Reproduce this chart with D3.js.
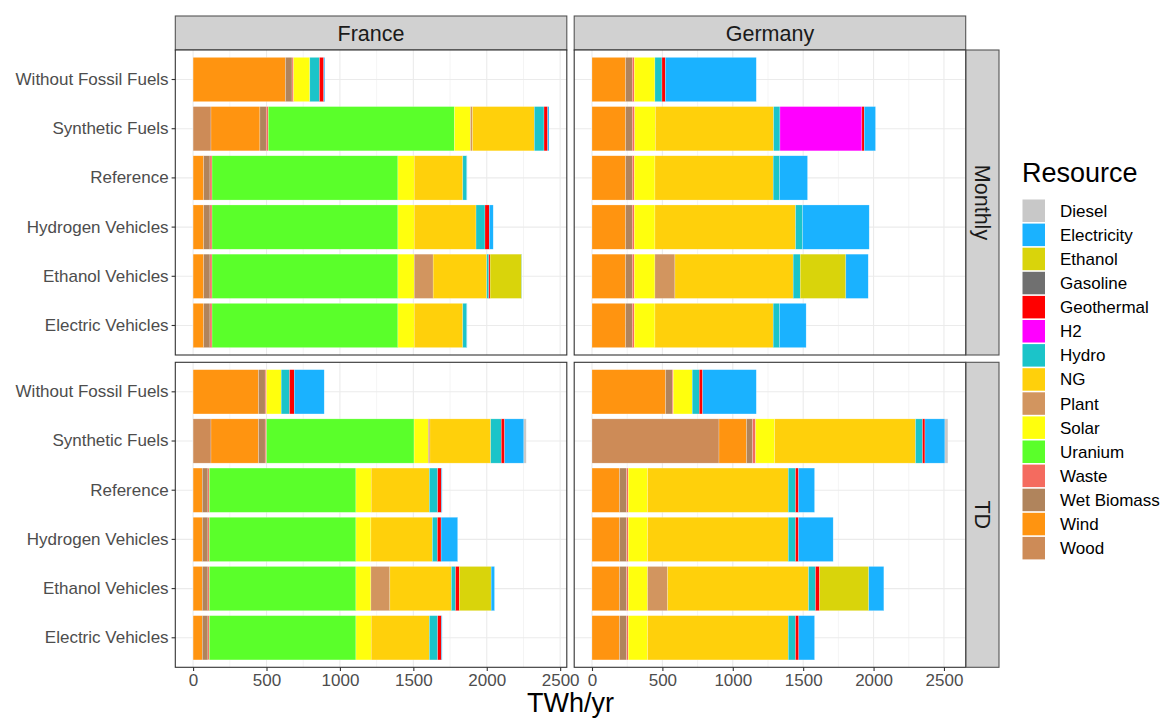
<!DOCTYPE html>
<html>
<head>
<meta charset="utf-8">
<script src="https://cdn.jsdelivr.net/npm/d3@7"></script>
<style>
  body { margin: 0; background: #fff; }
  text { font-family: "Liberation Sans", Arial, sans-serif; }
</style>
</head>
<body>
<svg id="chart" width="1162" height="718"></svg>
<script>
// --- Data ---
const scenarios = ['Without Fossil Fuels', 'Synthetic Fuels', 'Reference', 'Hydrogen Vehicles', 'Ethanol Vehicles', 'Electric Vehicles'];
const resources = ['Diesel', 'Electricity', 'Ethanol', 'Gasoline', 'Geothermal', 'H2', 'Hydro', 'NG', 'Plant', 'Solar', 'Uranium', 'Waste', 'Wet Biomass', 'Wind', 'Wood'];
const resourceColors = ['#C8C8C8', '#1AB2FF', '#D9D40B', '#707070', '#FF0000', '#FF00FF', '#1BC4C9', '#FFD00B', '#D2955F', '#FFFF0D', '#5AFF2A', '#F46B5F', '#B0845C', '#FF9410', '#CD8B57'];
const countries = ['France', 'Germany'];
const resolutions = ['Monthly', 'TD'];
const xTicks = [0, 500, 1000, 1500, 2000, 2500];

// rows = scenarios, columns = resources (TWh/yr)
const franceMonthly = [
    [0, 7, 0, 0, 29, 0, 66, 0, 0, 111, 0, 10, 45, 629, 0],
    [0, 9, 0, 0, 25, 0, 66, 421, 14, 109, 1268, 14, 43, 333, 122],
    [0, 2, 0, 0, 0, 0, 27, 331, 0, 111, 1266, 14, 43, 72, 0],
    [0, 27, 0, 0, 29, 0, 61, 421, 0, 111, 1266, 14, 43, 72, 0],
    [0, 2, 215, 0, 9, 0, 14, 365, 129, 111, 1266, 14, 43, 72, 0],
    [0, 2, 0, 0, 0, 0, 27, 331, 0, 111, 1266, 14, 43, 72, 0]
];
const germanyMonthly = [
    [0, 646, 0, 0, 24, 0, 50, 0, 0, 147, 0, 14, 47, 239, 0],
    [0, 80, 0, 0, 17, 582, 45, 840, 0, 147, 0, 17, 47, 239, 0],
    [0, 199, 0, 0, 0, 0, 45, 840, 0, 147, 0, 14, 47, 239, 0],
    [0, 473, 0, 0, 0, 0, 50, 999, 0, 147, 0, 14, 47, 239, 0],
    [0, 159, 324, 0, 0, 0, 50, 840, 142, 147, 0, 14, 47, 239, 0],
    [0, 189, 0, 0, 0, 0, 45, 840, 0, 147, 0, 14, 47, 239, 0]
];
const franceTD = [
    [0, 204, 0, 0, 32, 0, 57, 0, 0, 100, 0, 9, 45, 446, 0],
    [16, 131, 0, 0, 23, 0, 72, 414, 11, 97, 1005, 9, 45, 324, 122],
    [0, 5, 0, 0, 25, 0, 57, 396, 0, 104, 998, 10, 38, 63, 0],
    [0, 113, 0, 0, 25, 0, 34, 419, 0, 102, 998, 10, 38, 63, 0],
    [0, 23, 217, 0, 25, 0, 29, 419, 129, 102, 998, 10, 38, 63, 0],
    [0, 5, 0, 0, 25, 0, 57, 396, 0, 104, 998, 10, 38, 63, 0]
];
const germanyTD = [
    [0, 381, 0, 0, 24, 0, 50, 0, 0, 135, 0, 7, 47, 523, 0],
    [21, 142, 0, 0, 17, 0, 50, 1001, 0, 135, 0, 21, 43, 196, 902],
    [0, 114, 0, 0, 21, 0, 52, 999, 0, 137, 0, 12, 50, 196, 0],
    [0, 246, 0, 0, 21, 0, 52, 999, 0, 137, 0, 12, 50, 196, 0],
    [0, 107, 350, 0, 28, 0, 50, 1001, 142, 137, 0, 12, 50, 196, 0],
    [0, 112, 0, 0, 23, 0, 52, 999, 0, 137, 0, 12, 50, 196, 0]
];

const panelValues = {
    France: { Monthly: franceMonthly, TD: franceTD },
    Germany: { Monthly: germanyMonthly, TD: germanyTD }
};

// --- Layout ---
const colLeft = [175.3, 574.2];
const panelW = 391.5;
const rowTop = [50, 362.3];
const panelH = 305;
const stripTop = 16;
const stripRight = 999;
const axisFont = '17px';

const svg = d3.select('#chart');
const color = d3.scaleOrdinal().domain(resources).range(resourceColors);

// ggplot stacks the first factor level last (rightmost)
const stackOrder = resources.slice().reverse();
const stack = d3.stack().keys(stackOrder);

function toRows(matrix) {
    return scenarios.map((s, i) => {
        const row = { scenario: s };
        resources.forEach((r, j) => { row[r] = matrix[i][j]; });
        return row;
    });
}

// free x scale per column: max over both rows, 5% expansion
const xScales = countries.map((c, ci) => {
    const maxTotal = d3.max(resolutions, res => d3.max(panelValues[c][res], row => d3.sum(row)));
    return d3.scaleLinear()
        .domain([-0.05 * maxTotal, 1.05 * maxTotal])
        .range([colLeft[ci], colLeft[ci] + panelW]);
});

countries.forEach((country, ci) => {
    const x = xScales[ci];
    const left = colLeft[ci];

    // top strip
    svg.append('rect')
        .attr('x', left).attr('y', stripTop)
        .attr('width', panelW).attr('height', rowTop[0] - stripTop)
        .attr('fill', '#D1D1D1').attr('stroke', '#555').attr('stroke-width', 1.1);
    svg.append('text')
        .attr('x', left + panelW / 2).attr('y', (stripTop + rowTop[0]) / 2 + 7.5)
        .attr('text-anchor', 'middle')
        .style('font-size', '21.5px').style('fill', '#1A1A1A')
        .text(country);

    resolutions.forEach((res, ri) => {
        const top = rowTop[ri];
        const y = d3.scaleBand().domain(scenarios)
            .range([top, top + panelH])
            .paddingInner(0.1).paddingOuter(0.15);
        const g = svg.append('g');

        g.append('rect')
            .attr('x', left).attr('y', top)
            .attr('width', panelW).attr('height', panelH)
            .attr('fill', '#fff');

        // minor gridlines
        const minor = xTicks.map(t => t + 250).filter(t => x(t) < left + panelW);
        g.selectAll('.minor').data(minor).join('line')
            .attr('x1', d => x(d)).attr('x2', d => x(d))
            .attr('y1', top).attr('y2', top + panelH)
            .attr('stroke', '#EBEBEB').attr('stroke-width', 0.55);
        // major gridlines
        g.selectAll('.majorx').data(xTicks).join('line')
            .attr('x1', d => x(d)).attr('x2', d => x(d))
            .attr('y1', top).attr('y2', top + panelH)
            .attr('stroke', '#EBEBEB').attr('stroke-width', 1.1);
        g.selectAll('.majory').data(scenarios).join('line')
            .attr('x1', left).attr('x2', left + panelW)
            .attr('y1', d => y(d) + y.bandwidth() / 2).attr('y2', d => y(d) + y.bandwidth() / 2)
            .attr('stroke', '#EBEBEB').attr('stroke-width', 1.1);

        // stacked bars
        const series = stack(toRows(panelValues[country][res]));
        series.forEach(s => {
            g.selectAll(null).data(s.filter(d => d[1] > d[0])).join('rect')
                .attr('x', d => x(d[0]))
                .attr('y', d => y(d.data.scenario))
                .attr('width', d => x(d[1]) - x(d[0]))
                .attr('height', y.bandwidth())
                .attr('fill', color(s.key))
                .attr('stroke', '#fff').attr('stroke-opacity', 0.45).attr('stroke-width', 0.5);
        });

        // panel border
        g.append('rect')
            .attr('x', left).attr('y', top)
            .attr('width', panelW).attr('height', panelH)
            .attr('fill', 'none').attr('stroke', '#333').attr('stroke-width', 1.1);

        // y axis on first column
        if (ci === 0) {
            const ax = svg.append('g')
                .attr('transform', `translate(${left},0)`)
                .call(d3.axisLeft(y).tickSize(3.7).tickSizeOuter(0).tickPadding(3));
            ax.select('.domain').remove();
            ax.selectAll('line').attr('stroke', '#333').attr('stroke-width', 1.1);
            ax.selectAll('text').style('font-size', axisFont).style('fill', '#4D4D4D')
                .style('font-family', '"Liberation Sans", Arial, sans-serif');
        }
        // right strip on last column
        if (ci === countries.length - 1) {
            const sx = left + panelW + 0.3;
            svg.append('rect')
                .attr('x', sx).attr('y', top)
                .attr('width', stripRight - sx).attr('height', panelH)
                .attr('fill', '#D1D1D1').attr('stroke', '#555').attr('stroke-width', 1.1);
            svg.append('text')
                .attr('transform', `translate(${(sx + stripRight) / 2 - 7.5},${top + panelH / 2}) rotate(90)`)
                .attr('text-anchor', 'middle')
                .style('font-size', '21.5px').style('fill', '#1A1A1A')
                .text(res);
        }
        // x axis on last row
        if (ri === resolutions.length - 1) {
            const ax = svg.append('g')
                .attr('transform', `translate(0,${top + panelH})`)
                .call(d3.axisBottom(x).tickValues(xTicks).tickFormat(d3.format('d'))
                    .tickSize(3.7).tickSizeOuter(0).tickPadding(3));
            ax.select('.domain').remove();
            ax.selectAll('line').attr('stroke', '#333').attr('stroke-width', 1.1);
            ax.selectAll('text').style('font-size', axisFont).style('fill', '#4D4D4D')
                .style('font-family', '"Liberation Sans", Arial, sans-serif');
        }
    });
});

// axis title
svg.append('text')
    .attr('x', (colLeft[0] + colLeft[1] + panelW) / 2).attr('y', 712)
    .attr('text-anchor', 'middle')
    .style('font-size', '27px').style('fill', '#000')
    .text('TWh/yr');

// --- Legend ---
const legend = svg.append('g').attr('transform', 'translate(1022,0)');
legend.append('text')
    .attr('x', 0).attr('y', 182)
    .style('font-size', '27px').style('fill', '#000')
    .text('Resource');
const keyStep = 24.1;
resources.forEach((r, i) => {
    const ky = 199.5 + i * keyStep;
    legend.append('rect')
        .attr('x', 0.5).attr('y', ky)
        .attr('width', 22.5).attr('height', 22.5)
        .attr('fill', color(r));
    legend.append('text')
        .attr('x', 38).attr('y', ky + 11.25 + 6)
        .style('font-size', '17px').style('fill', '#000')
        .text(r);
});
</script>
</body>
</html>
